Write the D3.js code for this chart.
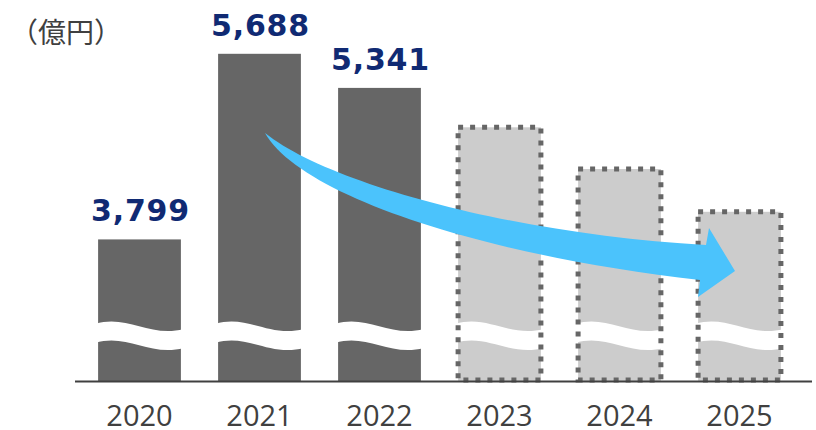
<!DOCTYPE html>
<html><head><meta charset="utf-8">
<script src="https://cdn.jsdelivr.net/npm/d3@7"></script>
<style>html,body{margin:0;padding:0;background:#fff;}svg{display:block;}</style>
</head><body>
<svg id="chart" width="816" height="430"></svg>
<script>
// ---- data ----
const years = ["2020", "2021", "2022", "2023", "2024", "2025"];
const values = [3799, 5688, 5341, 4940, 4515, 4080];   // 2023-2025 estimated (no labels)
const isActual = [true, true, true, false, false, false];
const unitLabel = "（億円）";

// ---- layout ----
const svg = d3.select("#chart");
const baseY = 381;

const x = d3.scaleBand().domain(years).range([79.5, 799.5]).paddingInner(0.31).paddingOuter(0.155);
const y = d3.scaleLinear().domain([2358, 5688]).range([baseY, 53.8]);

const data = years.map((yr, i) => ({year: yr, value: values[i], actual: isActual[i]}));

// bars
svg.append("g").selectAll("rect").data(data).join("rect")
  .attr("x", d => x(d.year))
  .attr("y", d => y(d.value))
  .attr("width", x.bandwidth())
  .attr("height", d => baseY - y(d.value))
  .attr("fill", d => d.actual ? "#666666" : "#cccccc");

// wave break
const wave = svg.append("g");
data.forEach(d => {
  const w = x.bandwidth(), x0 = x(d.year) - 3, x1 = x(d.year) + w + 3;
  const th = 19;
  const p = d3.path();
  p.moveTo(x0, 324);
  p.bezierCurveTo(x(d.year) + 0.35 * w, 314, x(d.year) + 0.62 * w, 338, x1, 329);
  p.lineTo(x1, 329 + th);
  p.bezierCurveTo(x(d.year) + 0.62 * w, 338 + th, x(d.year) + 0.35 * w, 314 + th, x0, 324 + th);
  p.closePath();
  wave.append("path").attr("d", p.toString()).attr("fill", "#ffffff");
});

// dotted borders for forecast bars
svg.append("g").selectAll("rect").data(data.filter(d => !d.actual)).join("rect")
  .attr("x", d => x(d.year))
  .attr("y", d => y(d.value))
  .attr("width", x.bandwidth())
  .attr("height", d => baseY - 1 - y(d.value))
  .attr("fill", "none")
  .attr("stroke", "#666666")
  .attr("stroke-width", 5)
  .attr("stroke-dasharray", "5,7");

// axis line
svg.append("line").attr("x1", 75).attr("x2", 812).attr("y1", baseY + 0.5).attr("y2", baseY + 0.5)
  .attr("stroke", "#404040").attr("stroke-width", 2);

// x axis labels
const ax = svg.append("g").attr("transform", `translate(0,${baseY})`)
  .call(d3.axisBottom(x).tickSize(0).tickPadding(0));
ax.select(".domain").remove();
ax.selectAll("text")
  .attr("y", 45).attr("dy", 0)
  .attr("font-family", "'Open Sans', sans-serif")
  .attr("font-size", 29)
  .attr("fill", "#404040");

// value labels
const fmt = d3.format(",");
svg.append("g").selectAll("text").data(data.filter(d => d.actual)).join("text")
  .attr("x", d => x(d.year) + x.bandwidth() / 2 + 1)
  .attr("y", d => y(d.value) - 18)
  .attr("text-anchor", "middle")
  .attr("font-family", "'DejaVu Sans', Verdana, sans-serif")
  .attr("font-weight", "bold")
  .attr("font-size", 30)
  .attr("letter-spacing", 0.8)
  .attr("fill", "#102a73")
  .text(d => fmt(d.value));

// unit label
svg.append("text").attr("x", 10).attr("y", 43)
  .attr("font-family", "'Noto Sans CJK JP', sans-serif")
  .attr("font-size", 28)
  .attr("fill", "#404040")
  .text(unitLabel);

// trend arrow (annotation)
const a = d3.path();
a.moveTo(265, 133);
a.bezierCurveTo(330, 185, 520, 235, 706, 245);
a.lineTo(709, 228);
a.lineTo(735, 271);
a.lineTo(698, 297);
a.lineTo(700, 280);
a.bezierCurveTo(480, 255, 300, 195, 265, 133);
a.closePath();
svg.append("path").attr("d", a.toString()).attr("fill", "#4bc3fc");
</script>
</body></html>
